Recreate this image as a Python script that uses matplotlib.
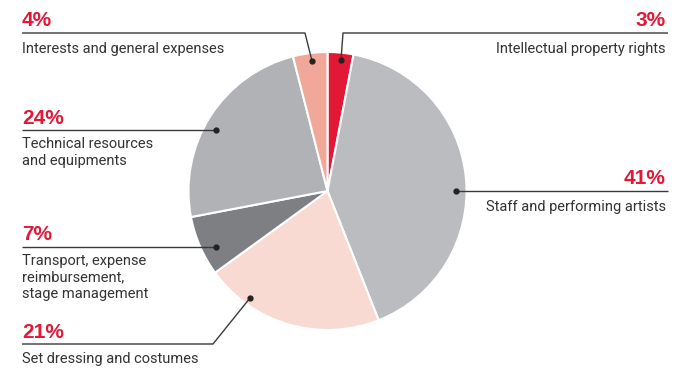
import matplotlib.pyplot as plt

# budget breakdown, clockwise from the top of the pie
labels = ['Intellectual property rights', 'Staff and performing artists',
          'Set dressing and costumes', 'Transport, expense\nreimbursement,\nstage management',
          'Technical resources\nand equipments', 'Interests and general expenses']
shares = [3, 41, 21, 7, 24, 4]
colors = ['#E31837', '#BBBCC0', '#F9DAD2', '#7E7F83', '#B1B2B6', '#F2A898']

W, H = 673, 369
RED = '#E31837'
INK = '#333333'
LINE = '#3A3A3A'
plt.rcParams['font.family'] = ['Roboto', 'DejaVu Sans']

fig = plt.figure(figsize=(W / 100, H / 100), dpi=100)
ax = fig.add_axes([0, 0, 1, 1])

# y axis runs downward (pixel style), so counterclock in data = clockwise on screen
ax.pie(shares, colors=colors, center=(327.5, 191), radius=139,
       startangle=-90, counterclock=True,
       wedgeprops=dict(edgecolor='white', linewidth=1.5))
ax.set_xlim(0, W)
ax.set_ylim(H, 0)
ax.set_aspect('auto')
ax.axis('off')

# leader layout: anchor dot, optional elbow, line y, side
leaders = [
    dict(dot=(341, 60), elbow=(343, 33), y=33, side='right'),
    dict(dot=(456, 191), elbow=None, y=191, side='right'),
    dict(dot=(250, 298), elbow=(213, 344), y=344, side='left'),
    dict(dot=(216, 246.5), elbow=None, y=246.5, side='left'),
    dict(dot=(216, 130), elbow=None, y=130, side='left'),
    dict(dot=(312, 61), elbow=(305, 33), y=33, side='left'),
]
XL, XR = 22, 668

for lab, val, ld in zip(labels, shares, leaders):
    dx, dy = ld['dot']
    y = ld['y']
    xs, ys = [dx], [dy]
    if ld['elbow'] is not None:
        xs.append(ld['elbow'][0])
        ys.append(ld['elbow'][1])
    else:
        xs.append(dx)
        ys.append(y)
    if ld['side'] == 'left':
        xs.append(XL)
        tx, ha = XL, 'left'
    else:
        xs.append(XR)
        tx, ha = XR - 2, 'right'
    ys.append(y)
    ax.plot(xs, ys, color=LINE, lw=1, solid_capstyle='butt')
    ax.plot(dx, dy, 'o', color='#222222', ms=3.5)
    ax.text(tx, y - 6.5, f'{val}%', ha=ha, va='baseline', color=RED,
            fontsize=15, fontweight='bold', family=['Liberation Sans', 'DejaVu Sans'])
    if '\n' in lab:
        ax.text(tx, y + 7, lab, ha=ha, va='top', color=INK, fontsize=10.5, linespacing=1.25)
    else:
        ax.text(tx, y + 19.5, lab, ha=ha, va='baseline', color=INK, fontsize=10.5)

fig.savefig('out.png', dpi=100)
